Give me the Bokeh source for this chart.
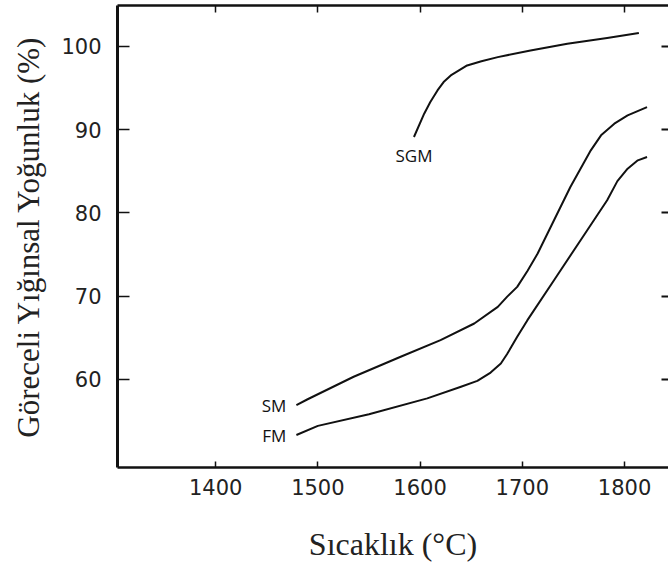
from bokeh.plotting import figure
from bokeh.models import Range1d, LinearAxis, FixedTicker, Label
from bokeh.embed import file_html
from bokeh.resources import INLINE

# Data (temperature in °C, relative bulk density in %)
sgm_t = [1594, 1604, 1610, 1617, 1623, 1630, 1638, 1646, 1660, 1676, 1708, 1744, 1783, 1814]
sgm_d = [89.1, 91.9, 93.3, 94.7, 95.7, 96.5, 97.1, 97.7, 98.2, 98.7, 99.5, 100.3, 101.0, 101.6]

sm_t = [1479, 1490, 1535, 1581, 1620, 1653, 1676, 1685, 1695, 1705, 1715, 1731, 1747, 1767,
        1777, 1790, 1803, 1822]
sm_d = [56.9, 57.6, 60.3, 62.7, 64.7, 66.7, 68.7, 69.9, 71.1, 73.0, 75.1, 79.1, 83.1, 87.5,
        89.3, 90.7, 91.7, 92.7]

fm_t = [1479, 1500, 1550, 1607, 1640, 1656, 1669, 1679, 1685, 1695, 1705, 1731, 1757, 1783,
        1793, 1803, 1813, 1822]
fm_d = [53.3, 54.4, 55.8, 57.7, 59.1, 59.8, 60.8, 61.9, 63.0, 65.1, 67.1, 71.9, 76.7, 81.5,
        83.8, 85.3, 86.3, 86.7]

x_ticks = [1400, 1500, 1600, 1700, 1800]
y_ticks = [60, 70, 80, 90, 100]

x_title = "Sıcaklık (°C)"
y_title = "Göreceli Yığınsal Yoğunluk (%)"

p = figure(width=668, height=567, x_range=Range1d(1304, 1843), y_range=Range1d(49.4, 104.9),
           output_backend="svg", toolbar_location=None,
           min_border_left=117, min_border_right=0, min_border_top=5, min_border_bottom=100)
p.outline_line_color = None
p.xgrid.grid_line_color = None
p.ygrid.grid_line_color = None
p.background_fill_color = "white"
p.border_fill_color = "white"

ink = "#111111"

# Bottom axis
xa = p.xaxis[0]
xa.ticker = FixedTicker(ticks=x_ticks)
xa.axis_line_width = 2.5
xa.axis_line_color = ink
xa.major_tick_in = 6
xa.major_tick_out = 0
xa.major_tick_line_width = 1.5
xa.major_tick_line_color = ink
xa.minor_tick_line_color = None
xa.major_label_text_font = "DejaVu Sans"
xa.major_label_text_font_size = "21px"
xa.major_label_text_color = "#222222"
xa.major_label_standoff = 11
xa.axis_label = x_title
xa.axis_label_text_font = "Liberation Serif"
xa.axis_label_text_font_style = "normal"
xa.axis_label_text_font_size = "32px"
xa.axis_label_text_color = "#222222"
xa.axis_label_standoff = 28

# Left axis
ya = p.yaxis[0]
ya.ticker = FixedTicker(ticks=y_ticks)
ya.axis_line_width = 3
ya.axis_line_color = ink
ya.major_tick_in = 12
ya.major_tick_out = 0
ya.major_tick_line_width = 1.5
ya.major_tick_line_color = ink
ya.minor_tick_line_color = None
ya.major_label_text_font = "DejaVu Sans"
ya.major_label_text_font_size = "21px"
ya.major_label_text_color = "#222222"
ya.major_label_standoff = 16
ya.major_label_orientation = "horizontal"
ya.axis_label = y_title
ya.axis_label_text_font = "Liberation Serif"
ya.axis_label_text_font_style = "normal"
ya.axis_label_text_font_size = "31px"
ya.axis_label_text_color = "#222222"
ya.axis_label_standoff = 12

# Top axis (line + inward ticks, labels hidden)
top = LinearAxis(ticker=FixedTicker(ticks=x_ticks), axis_line_width=2.5, axis_line_color=ink,
                 major_tick_in=7, major_tick_out=0, major_tick_line_width=1.5,
                 major_tick_line_color=ink, minor_tick_line_color=None,
                 major_label_text_font_size="0px", major_label_standoff=0)
p.add_layout(top, "above")

# Right axis (inward ticks only, labels hidden)
right = LinearAxis(ticker=FixedTicker(ticks=y_ticks), axis_line_color=None,
                   major_tick_in=7, major_tick_out=0, major_tick_line_width=2,
                   major_tick_line_color=ink, minor_tick_line_color=None,
                   major_label_text_font_size="0px", major_label_standoff=0)
p.add_layout(right, "right")

for t, d in [(sgm_t, sgm_d), (sm_t, sm_d), (fm_t, fm_d)]:
    p.line(t, d, line_color=ink, line_width=2, line_join="round")

lab_style = dict(text_font="Open Sans", text_font_size="17px", text_color=ink)
p.add_layout(Label(x=sgm_t[0], y=sgm_d[0], text="SGM", text_align="center", text_baseline="middle",
                   y_offset=-18, **lab_style))
p.add_layout(Label(x=sm_t[0], y=sm_d[0], text="SM", text_align="right", text_baseline="middle",
                   x_offset=-10, **lab_style))
p.add_layout(Label(x=fm_t[0], y=fm_d[0], text="FM", text_align="right", text_baseline="middle",
                   x_offset=-10, **lab_style))

open("out.html", "w").write(file_html(p, INLINE))
